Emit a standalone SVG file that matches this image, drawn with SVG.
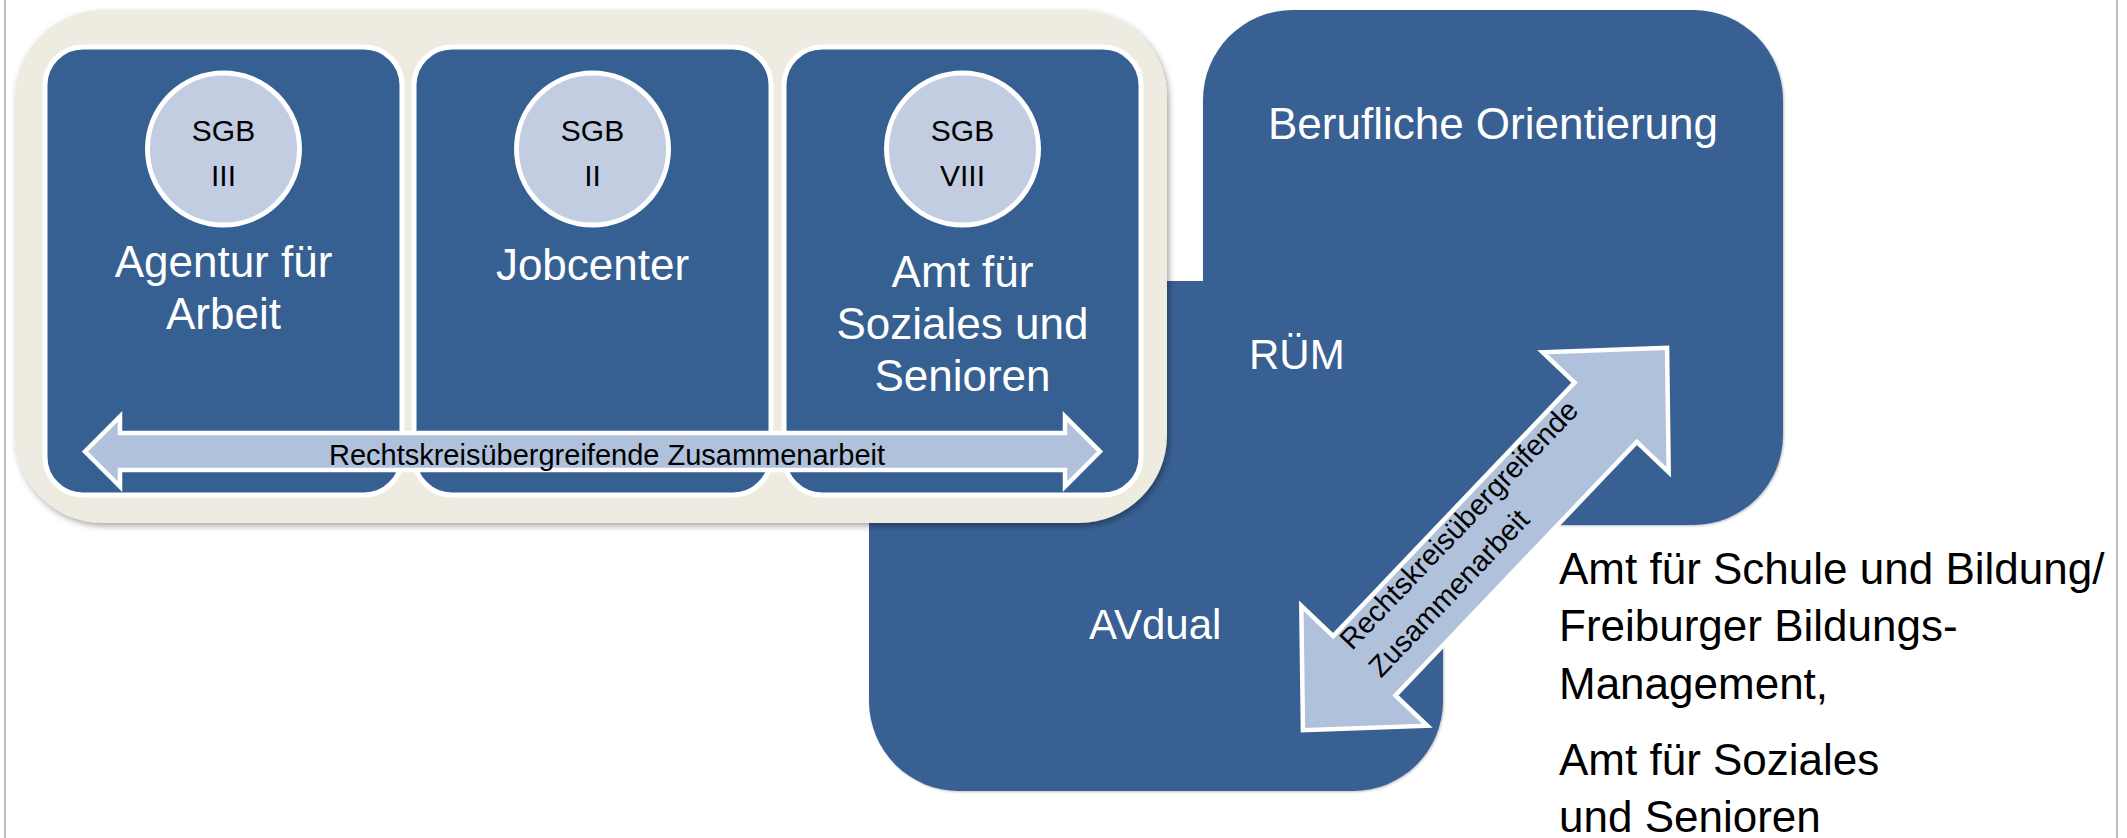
<svg xmlns="http://www.w3.org/2000/svg" width="2127" height="838" viewBox="0 0 2127 838">
<defs>
<filter id="sh" x="-5%" y="-5%" width="110%" height="115%">
<feDropShadow dx="2" dy="3" stdDeviation="3" flood-color="#000" flood-opacity="0.35"/>
</filter>
<filter id="sh2" x="-5%" y="-5%" width="110%" height="110%">
<feDropShadow dx="1" dy="1" stdDeviation="1" flood-color="#000" flood-opacity="0.25"/>
</filter>
</defs>
<style>
.blue{fill:#376092}
.panel{fill:#376092;stroke:#fff;stroke-width:5}
.circ{fill:#C3CDE2;stroke:#fff;stroke-width:5}
.arrow{fill:#B0C1DC;stroke:#fff;stroke-width:4.5;stroke-linejoin:miter}
.wl{font-family:"Liberation Sans",Arial,sans-serif;font-size:44px;fill:#fff;text-anchor:middle}
.wls{font-family:"Liberation Sans",Arial,sans-serif;font-size:42px;fill:#fff}
.sgb{font-family:"Liberation Sans",Arial,sans-serif;font-size:30px;fill:#000;text-anchor:middle}
.small{font-family:"Liberation Sans",Arial,sans-serif;font-size:29px;fill:#000}
.bl{font-family:"Liberation Sans",Arial,sans-serif;font-size:44px;fill:#000}
</style>
<rect x="0" y="0" width="2127" height="838" fill="#fff"/>
<line x1="5" y1="0" x2="5" y2="838" stroke="#BFBFBF" stroke-width="2"/>
<line x1="2117" y1="0" x2="2117" y2="838" stroke="#BFBFBF" stroke-width="2"/>

<g id="blue-shape" filter="url(#sh2)">
<rect class="blue" x="1203" y="10" width="580" height="515" rx="90"/>
<rect class="blue" x="869" y="281" width="574" height="510" rx="90"/>
</g>
<g id="beruf"><text class="wl" x="1493" y="139">Berufliche Orientierung</text></g>
<g id="ruem"><text class="wls" x="1249" y="369">RÜM</text></g>
<g id="avdual"><text class="wls" x="1089" y="639">AVdual</text></g>

<g id="frame">
<rect x="15" y="10" width="1152" height="513" rx="88" fill="#EEECE1" filter="url(#sh)"/>
</g>

<g id="agentur">
<rect class="panel" x="45" y="47" width="357" height="448" rx="38"/>
<circle class="circ" cx="223.5" cy="149" r="76"/>
<text class="sgb" x="223.5" y="141">SGB</text>
<text class="sgb" x="223.5" y="186">III</text>
<text class="wl" x="223.5" y="277">Agentur für</text>
<text class="wl" x="223.5" y="329">Arbeit</text>
</g>
<g id="jobcenter">
<rect class="panel" x="414" y="47" width="357" height="448" rx="38"/>
<circle class="circ" cx="592.5" cy="149" r="76"/>
<text class="sgb" x="592.5" y="141">SGB</text>
<text class="sgb" x="592.5" y="186">II</text>
<text class="wl" x="592.5" y="280">Jobcenter</text>
</g>
<g id="amt">
<rect class="panel" x="784" y="47" width="357" height="448" rx="38"/>
<circle class="circ" cx="962.5" cy="149" r="76"/>
<text class="sgb" x="962.5" y="141">SGB</text>
<text class="sgb" x="962.5" y="186">VIII</text>
<text class="wl" x="962.5" y="287">Amt für</text>
<text class="wl" x="962.5" y="339">Soziales und</text>
<text class="wl" x="962.5" y="391">Senioren</text>
</g>

<g id="connectors">
<polygon class="arrow" points="85,451.5 120,416.5 120,433 1065,433 1065,416.5 1100,451.5 1065,486.5 1065,470 120,470 120,486.5"/>
<text class="small" x="607" y="465" text-anchor="middle">Rechtskreisübergreifende Zusammenarbeit</text>
<g transform="translate(1485,539) rotate(-46.4)">
<polygon class="arrow" points="-264,0 -175,-87 -175,-43 175,-43 175,-87 264,0 175,87 175,43 -175,43 -175,87"/>
<text class="small" font-size="30.5" x="-173" y="-19">Rechtskreisübergreifende</text>
<text class="small" font-size="30.5" x="-173" y="21">Zusammenarbeit</text>
</g>
</g>

<g id="rightText">
<text class="bl" x="1559" y="584">Amt für Schule und Bildung/</text>
<text class="bl" x="1559" y="641">Freiburger Bildungs-</text>
<text class="bl" x="1559" y="699">Management,</text>
<text class="bl" x="1559" y="775">Amt für Soziales</text>
<text class="bl" x="1559" y="832">und Senioren</text>
</g>
</svg>
